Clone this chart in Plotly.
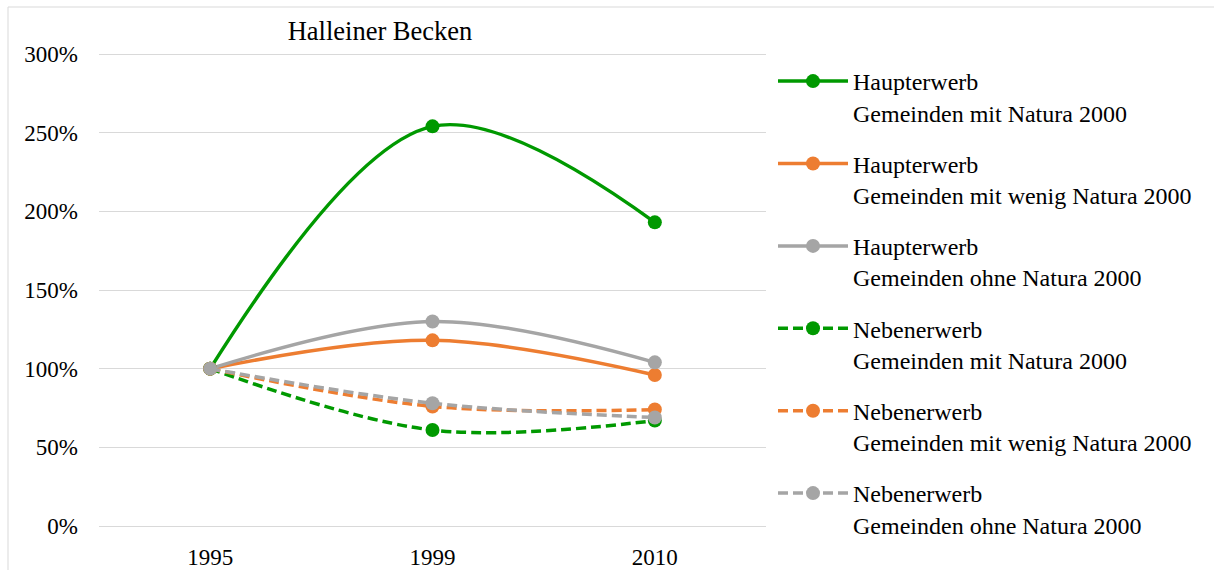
import plotly.graph_objects as go

# Index values (1995 = 100 %) per district group
years = ["1995", "1999", "2010"]
haupt_mit = [100, 254, 193]
haupt_wenig = [100, 118, 96]
haupt_ohne = [100, 130, 104]
neben_mit = [100, 61, 67]
neben_wenig = [100, 76, 74]
neben_ohne = [100, 78, 69]

y_ticks = [0, 50, 100, 150, 200, 250, 300]
y_tick_labels = ["0%", "50%", "100%", "150%", "200%", "250%", "300%"]

series_names = [
    "Haupterwerb<br>Gemeinden mit Natura 2000",
    "Haupterwerb<br>Gemeinden mit wenig Natura 2000",
    "Haupterwerb<br>Gemeinden ohne Natura 2000",
    "Nebenerwerb<br>Gemeinden mit Natura 2000",
    "Nebenerwerb<br>Gemeinden mit wenig Natura 2000",
    "Nebenerwerb<br>Gemeinden ohne Natura 2000",
]
series_values = [haupt_mit, haupt_wenig, haupt_ohne, neben_mit, neben_wenig, neben_ohne]

GREEN = "#009900"
ORANGE = "#ED7D31"
GREY = "#A5A5A5"
colors = [GREEN, ORANGE, GREY, GREEN, ORANGE, GREY]
dashes = ["solid", "solid", "solid", "10px,5px", "10px,5px", "10px,5px"]

FONT = "Liberation Serif, Times New Roman, serif"

fig = go.Figure()
for i, (name, vals) in enumerate(zip(series_names, series_values)):
    fig.add_trace(go.Scatter(
        x=years, y=vals, name=name, mode="lines+markers",
        line=dict(color=colors[i], width=3.5, dash=dashes[i], shape="spline", smoothing=1),
        marker=dict(color=colors[i], size=14),
        legendgroup=f"g{i}",
    ))

W, H = 1214, 570
# the y range is padded by a couple of pixels so the 0 % and 300 % grid lines stay visible
L, R, T, B = 99, 448, 52, 42
pw, ph = W - L - R, H - T - B
Y_PAD = 1.271

def px_x(x):
    return (x - L) / pw

def px_y(y):
    return 1 - (y - T) / ph

fig.update_layout(
    width=W, height=H,
    margin=dict(l=L, r=R, t=T, b=B, pad=0, autoexpand=False),
    paper_bgcolor="white", plot_bgcolor="white",
    font=dict(family=FONT, size=23, color="#000000"),
    title=dict(text="Halleiner Becken", x=380 / W, xanchor="center", xref="container",
               y=1 - 31 / H, yanchor="middle", yref="container",
               font=dict(family=FONT, size=26.5, color="#000000")),
    xaxis=dict(type="category", range=[-0.5, 2.5], showgrid=False, zeroline=False,
               showline=False, ticks="", ticklabelstandoff=13, automargin=False,
               tickfont=dict(family=FONT, size=23)),
    yaxis=dict(range=[-Y_PAD, 300 + Y_PAD], tickvals=y_ticks, ticktext=y_tick_labels,
               showgrid=True, gridcolor="#D9D9D9", gridwidth=1,
               zeroline=False, showline=False, ticks="", ticklabelstandoff=20,
               automargin=False, tickfont=dict(family=FONT, size=23)),
    legend=dict(x=px_x(773), xanchor="left", y=px_y(59), yanchor="top",
                itemwidth=70, valign="top", tracegroupgap=17, maxheight=560,
                font=dict(family=FONT, size=24), bgcolor="rgba(0,0,0,0)"),
    showlegend=True,
)

# chart frame (top and left edges)
fig.add_shape(type="line", xref="paper", yref="paper",
              x0=px_x(8), x1=px_x(1300), y0=px_y(7), y1=px_y(7),
              line=dict(color="#D9D9D9", width=1))
fig.add_shape(type="line", xref="paper", yref="paper",
              x0=px_x(8), x1=px_x(8), y0=px_y(7), y1=px_y(700),
              line=dict(color="#D9D9D9", width=1))

fig.write_html("out.html")
